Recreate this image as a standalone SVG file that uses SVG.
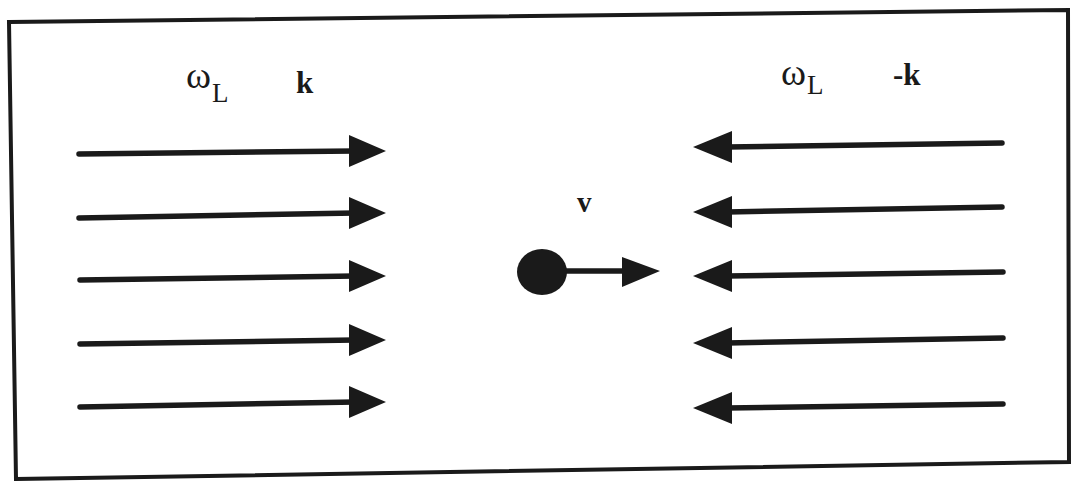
<svg xmlns="http://www.w3.org/2000/svg" width="1071" height="481" viewBox="0 0 1071 481">
<style>
.ln{stroke:#1a1a1a;stroke-width:5.5;stroke-linecap:round;fill:none}
.hd{fill:#1a1a1a}
.t{font-family:"Liberation Serif",serif;fill:#1a1a1a}
.b{font-weight:bold}
</style>
<rect width="1071" height="481" fill="#fff"/>
<g id="frame"><polygon points="9,22 1068,10 1069,462 16,479" fill="none" stroke="#1a1a1a" stroke-width="4"/></g>
<g id="labels">
<text class="t" x="186" y="88" font-size="38">ω</text><text class="t" x="212" y="102" font-size="27">L</text>
<text class="t b" x="296" y="93" font-size="31">k</text>
<text class="t" x="781" y="85" font-size="38">ω</text><text class="t" x="807" y="94" font-size="27">L</text>
<text class="t b" x="893" y="85" font-size="31">-k</text>
<text class="t b" x="577" y="212" font-size="29">v</text>
</g>
<g id="connectors">
<line class="ln" x1="79" y1="154" x2="355" y2="151"/><polygon class="hd" points="349,135 386,151 349,167"/>
<line class="ln" x1="79" y1="218" x2="355" y2="213"/><polygon class="hd" points="349,197 386,213 349,229"/>
<line class="ln" x1="80" y1="280" x2="355" y2="276"/><polygon class="hd" points="349,260 386,276 349,292"/>
<line class="ln" x1="80" y1="344" x2="355" y2="340"/><polygon class="hd" points="349,324 386,340 349,356"/>
<line class="ln" x1="80" y1="407" x2="355" y2="402"/><polygon class="hd" points="349,386 386,402 349,418"/>
<line class="ln" x1="1002" y1="143" x2="727" y2="147"/><polygon class="hd" points="732,131 693,147 732,163"/>
<line class="ln" x1="1002" y1="207" x2="727" y2="212"/><polygon class="hd" points="732,196 693,212 732,228"/>
<line class="ln" x1="1003" y1="272" x2="727" y2="276"/><polygon class="hd" points="732,260 693,276 732,292"/>
<line class="ln" x1="1003" y1="338" x2="727" y2="343"/><polygon class="hd" points="732,327 693,343 732,359"/>
<line class="ln" x1="1003" y1="404" x2="727" y2="408"/><polygon class="hd" points="732,392 693,408 732,424"/>
<line class="ln" x1="560" y1="271" x2="628" y2="271"/><polygon class="hd" points="622,257 660,271 622,287"/>
</g>
<g id="particle"><ellipse cx="542" cy="272" rx="25" ry="23" fill="#1a1a1a"/></g>
</svg>
